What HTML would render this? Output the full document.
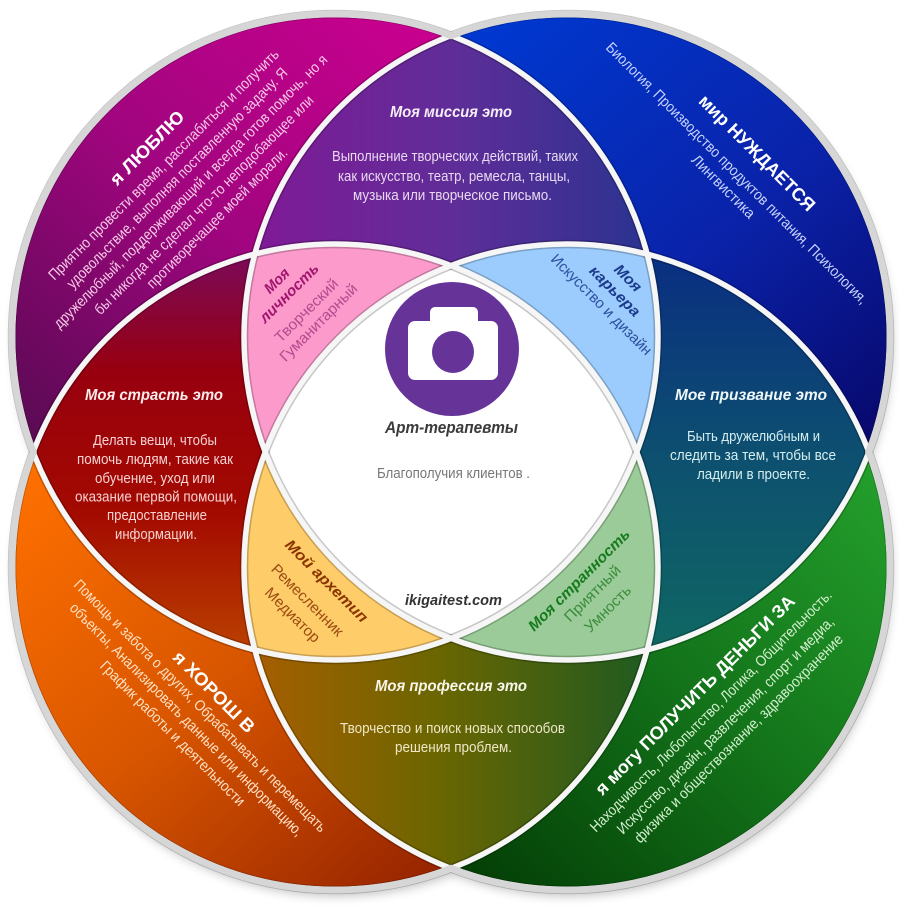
<!DOCTYPE html>
<html><head><meta charset="utf-8"><style>
html,body{margin:0;padding:0;background:#fff;}
svg{display:block;}
text{font-family:"Liberation Sans",sans-serif;}
.h{font-weight:bold;font-style:italic;}
.b{font-weight:bold;}
</style></head><body>
<svg width="900" height="911" viewBox="0 0 900 911" xmlns="http://www.w3.org/2000/svg">
<defs>
<clipPath id="cM"><circle cx="335" cy="337" r="323"/></clipPath>
<clipPath id="cB"><circle cx="567" cy="337" r="323"/></clipPath>
<clipPath id="cO"><circle cx="335" cy="567" r="323"/></clipPath>
<clipPath id="cG"><circle cx="567" cy="567" r="323"/></clipPath>
<linearGradient id="gM" gradientUnits="userSpaceOnUse" x1="420" y1="20" x2="40" y2="440"><stop offset="0" stop-color="#c9008f"/><stop offset="0.5" stop-color="#a1057f"/><stop offset="1" stop-color="#5c0a55"/></linearGradient>
<linearGradient id="gB" gradientUnits="userSpaceOnUse" x1="500" y1="15" x2="880" y2="450"><stop offset="0" stop-color="#0038d0"/><stop offset="0.55" stop-color="#0a22a8"/><stop offset="1" stop-color="#08076a"/></linearGradient>
<linearGradient id="gO" gradientUnits="userSpaceOnUse" x1="30" y1="460" x2="420" y2="890"><stop offset="0" stop-color="#ff7000"/><stop offset="0.5" stop-color="#d85600"/><stop offset="1" stop-color="#972400"/></linearGradient>
<linearGradient id="gG" gradientUnits="userSpaceOnUse" x1="880" y1="460" x2="470" y2="890"><stop offset="0" stop-color="#24a02c"/><stop offset="0.5" stop-color="#13731a"/><stop offset="1" stop-color="#033d05"/></linearGradient>
<linearGradient id="gMis" gradientUnits="userSpaceOnUse" x1="255" y1="0" x2="650" y2="0"><stop offset="0" stop-color="#801a96"/><stop offset="0.5" stop-color="#5f2d98"/><stop offset="1" stop-color="#2a3390"/></linearGradient>
<linearGradient id="gPas" gradientUnits="userSpaceOnUse" x1="0" y1="250" x2="0" y2="655"><stop offset="0" stop-color="#7a0a5c"/><stop offset="0.3" stop-color="#98000f"/><stop offset="0.65" stop-color="#a30a00"/><stop offset="1" stop-color="#bb4200"/></linearGradient>
<linearGradient id="gCal" gradientUnits="userSpaceOnUse" x1="0" y1="250" x2="0" y2="655"><stop offset="0" stop-color="#0a2d82"/><stop offset="0.5" stop-color="#0d4f70"/><stop offset="1" stop-color="#0f6862"/></linearGradient>
<linearGradient id="gPro" gradientUnits="userSpaceOnUse" x1="250" y1="0" x2="655" y2="0"><stop offset="0" stop-color="#a85e00"/><stop offset="0.45" stop-color="#6c6600"/><stop offset="1" stop-color="#1c5a22"/></linearGradient>
<filter id="blur" x="-10%" y="-10%" width="120%" height="120%"><feGaussianBlur stdDeviation="5"/></filter>
<mask id="outerMask" maskUnits="userSpaceOnUse" x="0" y="0" width="900" height="911">
<rect x="0" y="0" width="900" height="911" fill="#fff"/>
<circle cx="335" cy="337" r="319.5" fill="#000"/>
<circle cx="567" cy="337" r="319.5" fill="#000"/>
<circle cx="335" cy="567" r="319.5" fill="#000"/>
<circle cx="567" cy="567" r="319.5" fill="#000"/>
</mask>
</defs>

<g filter="url(#blur)" opacity="0.45" transform="translate(2,6)" fill="#777">
<circle cx="335" cy="337" r="323"/><circle cx="567" cy="337" r="323"/>
<circle cx="335" cy="567" r="323"/><circle cx="567" cy="567" r="323"/>
</g>

<circle cx="335" cy="337" r="323" fill="url(#gM)"/>
<circle cx="567" cy="337" r="323" fill="url(#gB)"/>
<circle cx="335" cy="567" r="323" fill="url(#gO)"/>
<circle cx="567" cy="567" r="323" fill="url(#gG)"/>

<g clip-path="url(#cM)"><circle cx="567" cy="337" r="323" fill="url(#gMis)"/></g>
<g clip-path="url(#cM)"><circle cx="335" cy="567" r="323" fill="url(#gPas)"/></g>
<g clip-path="url(#cB)"><circle cx="567" cy="567" r="323" fill="url(#gCal)"/></g>
<g clip-path="url(#cO)"><circle cx="567" cy="567" r="323" fill="url(#gPro)"/></g>

<g clip-path="url(#cM)"><g clip-path="url(#cB)"><circle cx="335" cy="567" r="323" fill="#fc9acb"/></g></g>
<g clip-path="url(#cM)"><g clip-path="url(#cB)"><circle cx="567" cy="567" r="323" fill="#9cccfd"/></g></g>
<g clip-path="url(#cM)"><g clip-path="url(#cO)"><circle cx="567" cy="567" r="323" fill="#fecc68"/></g></g>
<g clip-path="url(#cB)"><g clip-path="url(#cO)"><circle cx="567" cy="567" r="323" fill="#9acb98"/></g></g>

<g clip-path="url(#cM)"><g clip-path="url(#cB)"><g clip-path="url(#cO)"><circle cx="567" cy="567" r="323" fill="#ffffff"/></g></g></g>

<g fill="none" stroke="rgba(0,0,0,0.22)" stroke-width="8.5">
<circle cx="335" cy="337" r="323"/><circle cx="567" cy="337" r="323"/>
<circle cx="335" cy="567" r="323"/><circle cx="567" cy="567" r="323"/>
</g>
<g fill="none" stroke="#f6f6f6" stroke-width="5.5">
<circle cx="335" cy="337" r="323"/><circle cx="567" cy="337" r="323"/>
<circle cx="335" cy="567" r="323"/><circle cx="567" cy="567" r="323"/>
</g>
<g fill="none" stroke="#d6d6d6" stroke-width="7" mask="url(#outerMask)">
<circle cx="335" cy="337" r="323"/><circle cx="567" cy="337" r="323"/>
<circle cx="335" cy="567" r="323"/><circle cx="567" cy="567" r="323"/>
</g>

<circle cx="452" cy="349" r="67" fill="#663399"/>
<rect x="430" y="307" width="48" height="22" rx="5" fill="#fff"/>
<rect x="408" y="321" width="90" height="59" rx="7" fill="#fff"/>
<circle cx="453" cy="352" r="21" fill="#663399"/>

<text class="h" x="451.5" y="433" font-size="17" fill="#3b3b3b" text-anchor="middle" textLength="133" lengthAdjust="spacingAndGlyphs">Арт-терапевты</text>
<text x="453.5" y="478" font-size="15" fill="#777" text-anchor="middle" textLength="153" lengthAdjust="spacingAndGlyphs">Благополучия клиентов .</text>
<text class="h" x="453.5" y="605" font-size="15" fill="#333" text-anchor="middle" textLength="97" lengthAdjust="spacingAndGlyphs">ikigaitest.com</text>

<text class="h" x="451" y="117" font-size="16" fill="#f7eef7" text-anchor="middle" textLength="122" lengthAdjust="spacingAndGlyphs">Моя миссия это</text>
<g font-size="15" fill="#ead9f2" text-anchor="middle">
<text x="455" y="161" textLength="246" lengthAdjust="spacingAndGlyphs">Выполнение творческих действий, таких</text>
<text x="454" y="181" textLength="232" lengthAdjust="spacingAndGlyphs">как искусство, театр, ремесла, танцы,</text>
<text x="452.5" y="200" textLength="199" lengthAdjust="spacingAndGlyphs">музыка или творческое письмо.</text>
</g>

<text class="h" x="154" y="400" font-size="16" fill="#fbecec" text-anchor="middle" textLength="138" lengthAdjust="spacingAndGlyphs">Моя страсть это</text>
<g font-size="15" fill="#f7d2d2" text-anchor="middle">
<text x="155" y="445" textLength="124" lengthAdjust="spacingAndGlyphs">Делать вещи, чтобы</text>
<text x="155" y="464" textLength="156" lengthAdjust="spacingAndGlyphs">помочь людям, такие как</text>
<text x="155" y="483" textLength="120" lengthAdjust="spacingAndGlyphs">обучение, уход или</text>
<text x="156" y="501.5" textLength="162" lengthAdjust="spacingAndGlyphs">оказание первой помощи,</text>
<text x="157" y="520" textLength="100" lengthAdjust="spacingAndGlyphs">предоставление</text>
<text x="156" y="539" textLength="82" lengthAdjust="spacingAndGlyphs">информации.</text>
</g>

<text class="h" x="751" y="400" font-size="16" fill="#eef8f8" text-anchor="middle" textLength="152" lengthAdjust="spacingAndGlyphs">Мое призвание это</text>
<g font-size="15" fill="#d5eef0" text-anchor="middle">
<text x="753.5" y="441" textLength="133" lengthAdjust="spacingAndGlyphs">Быть дружелюбным и</text>
<text x="753" y="460" textLength="166" lengthAdjust="spacingAndGlyphs">следить за тем, чтобы все</text>
<text x="753.5" y="479" textLength="113" lengthAdjust="spacingAndGlyphs">ладили в проекте.</text>
</g>

<text class="h" x="451" y="691" font-size="16" fill="#f8f6ea" text-anchor="middle" textLength="152" lengthAdjust="spacingAndGlyphs">Моя профессия это</text>
<g font-size="15" fill="#efe7c6" text-anchor="middle">
<text x="452.5" y="733" textLength="225" lengthAdjust="spacingAndGlyphs">Творчество и поиск новых способов</text>
<text x="453.5" y="752" textLength="117" lengthAdjust="spacingAndGlyphs">решения проблем.</text>
</g>

<g transform="translate(147,148) rotate(-45)" text-anchor="middle">
<text class="b" y="6" font-size="18" fill="#fff" textLength="97" lengthAdjust="spacingAndGlyphs">я ЛЮБЛЮ</text>
<g font-size="15" fill="#f6c8e6">
<text y="28.5" textLength="319" lengthAdjust="spacingAndGlyphs">Приятно провести время, расслабиться и получить</text>
<text y="47.5" textLength="305" lengthAdjust="spacingAndGlyphs">удовольствие, выполняя поставленную задачу. Я</text>
<text y="66.5" textLength="380" lengthAdjust="spacingAndGlyphs">дружелюбный, поддерживающий и всегда готов помочь, но я</text>
<text y="85.5" textLength="303" lengthAdjust="spacingAndGlyphs">бы никогда не сделал что-то неподобающее или</text>
<text y="104" textLength="192" lengthAdjust="spacingAndGlyphs">противоречащее моей морали.</text>
</g>
</g>

<g transform="translate(757,153) rotate(45)" text-anchor="middle">
<text class="b" y="6" font-size="18" fill="#fff" textLength="156" lengthAdjust="spacingAndGlyphs">мир НУЖДАЕТСЯ</text>
<g font-size="15" fill="#c6d3ff">
<text y="33.5" textLength="363" lengthAdjust="spacingAndGlyphs">Биология, Производство продуктов питания, Психология,</text>
<text y="52.5" textLength="83" lengthAdjust="spacingAndGlyphs">Лингвистика</text>
</g>
</g>

<g transform="translate(214,692) rotate(45)" text-anchor="middle">
<text class="b" y="6" font-size="18" fill="#fff" textLength="107" lengthAdjust="spacingAndGlyphs">я ХОРОШ В</text>
<g font-size="15" fill="#ffe0c4">
<text y="24.5" textLength="350" lengthAdjust="spacingAndGlyphs">Помощь и забота о других, Обрабатывать и перемещать</text>
<text y="44" textLength="323" lengthAdjust="spacingAndGlyphs">объекты, Анализировать данные или информацию,</text>
<text y="63.5" textLength="198" lengthAdjust="spacingAndGlyphs">График работы и деятельности</text>
</g>
</g>

<g transform="translate(695,695) rotate(-45)" text-anchor="middle">
<text class="b" y="6" font-size="18" fill="#fff" textLength="274" lengthAdjust="spacingAndGlyphs">я могу ПОЛУЧИТЬ ДЕНЬГИ ЗА</text>
<g font-size="15" fill="#d2efcc">
<text y="27.5" textLength="335" lengthAdjust="spacingAndGlyphs">Находчивость, Любопытство, Логика, Общительность.</text>
<text y="48" textLength="300" lengthAdjust="spacingAndGlyphs">Искусство, дизайн, развлечения, спорт и медиа,</text>
<text y="66.5" textLength="288" lengthAdjust="spacingAndGlyphs">физика и обществознание, здравоохранение</text>
</g>
</g>

<g transform="translate(289,293) rotate(-45)" text-anchor="middle">
<text class="h" y="-12.3" font-size="15" fill="#a0166f" textLength="29" lengthAdjust="spacingAndGlyphs">Моя</text>
<text class="h" y="5" font-size="15" fill="#a0166f" textLength="77" lengthAdjust="spacingAndGlyphs">личность</text>
<text y="29.7" font-size="15" fill="#b54a8e" textLength="83" lengthAdjust="spacingAndGlyphs">Творческий</text>
<text y="46.8" font-size="15" fill="#b54a8e" textLength="103" lengthAdjust="spacingAndGlyphs">Гуманитарный</text>
</g>

<g transform="translate(601.5,304.5) rotate(45)" text-anchor="middle">
<text class="h" y="-32.5" font-size="15" fill="#1c3b8c" textLength="32" lengthAdjust="spacingAndGlyphs">Моя</text>
<text class="h" y="-14" font-size="15" fill="#1c3b8c" textLength="65" lengthAdjust="spacingAndGlyphs">карьера</text>
<text y="5" font-size="15" fill="#2d4f9e" textLength="136" lengthAdjust="spacingAndGlyphs">Искусство и дизайн</text>
</g>

<g transform="translate(326.5,581) rotate(45)" text-anchor="middle">
<text class="h" y="5" font-size="15" fill="#8a3400" textLength="110" lengthAdjust="spacingAndGlyphs">Мой архетип</text>
<text y="32" font-size="15" fill="#9c4c12" textLength="95" lengthAdjust="spacingAndGlyphs">Ремесленник</text>
<text y="53" font-size="15" fill="#9c4c12" textLength="71" lengthAdjust="spacingAndGlyphs">Медиатор</text>
</g>

<g transform="translate(579,580) rotate(-45)" text-anchor="middle">
<text class="h" y="5" font-size="15" fill="#187a1e" textLength="137" lengthAdjust="spacingAndGlyphs">Моя странность</text>
<text y="24" font-size="15" fill="#3c8c3c" textLength="73" lengthAdjust="spacingAndGlyphs">Приятный</text>
<text y="45.6" font-size="15" fill="#3c8c3c" textLength="59" lengthAdjust="spacingAndGlyphs">Умность</text>
</g>
</svg>
</body></html>
